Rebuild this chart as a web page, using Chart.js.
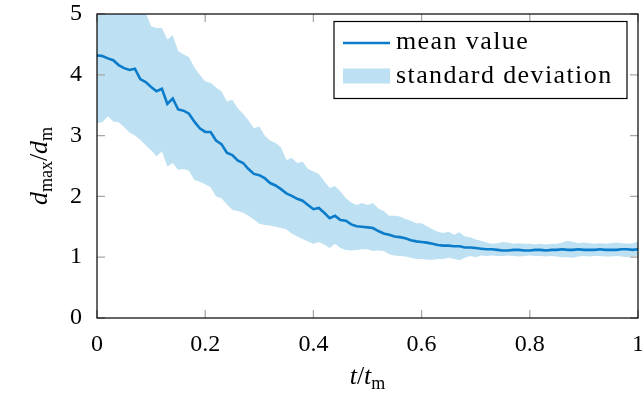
<!DOCTYPE html>
<html>
<head>
<meta charset="utf-8">
<script src="https://cdn.jsdelivr.net/npm/chart.js@4"></script>
<style>
  html, body { margin: 0; padding: 0; background: #fff; }
  canvas { display: block; }
</style>
</head>
<body>
<canvas id="devChart" width="642" height="395"></canvas>
<script>
// sample times t/t_m
const times = [
  0, 0.01, 0.02, 0.03, 0.04, 0.05, 0.06, 0.07, 0.08, 0.09,
  0.1, 0.11, 0.12, 0.13, 0.14, 0.15, 0.16, 0.17, 0.18, 0.19,
  0.2, 0.21, 0.22, 0.23, 0.24, 0.25, 0.26, 0.27, 0.28, 0.29,
  0.3, 0.31, 0.32, 0.33, 0.34, 0.35, 0.36, 0.37, 0.38, 0.39,
  0.4, 0.41, 0.42, 0.43, 0.44, 0.45, 0.46, 0.47, 0.48, 0.49,
  0.5, 0.51, 0.52, 0.53, 0.54, 0.55, 0.56, 0.57, 0.58, 0.59,
  0.6, 0.61, 0.62, 0.63, 0.64, 0.65, 0.66, 0.67, 0.68, 0.69,
  0.7, 0.71, 0.72, 0.73, 0.74, 0.75, 0.76, 0.77, 0.78, 0.79,
  0.8, 0.81, 0.82, 0.83, 0.84, 0.85, 0.86, 0.87, 0.88, 0.89,
  0.9, 0.91, 0.92, 0.93, 0.94, 0.95, 0.96, 0.97, 0.98, 0.99, 1
];

const meanValue = [
  4.32, 4.31, 4.27, 4.24, 4.16, 4.11, 4.08, 4.10, 3.93, 3.88,
  3.80, 3.73, 3.77, 3.52, 3.61, 3.43, 3.41, 3.36, 3.23, 3.12,
  3.06, 3.06, 2.92, 2.86, 2.72, 2.68, 2.59, 2.55, 2.45, 2.37,
  2.35, 2.30, 2.22, 2.18, 2.12, 2.05, 2.01, 1.96, 1.93, 1.86,
  1.79, 1.81, 1.73, 1.64, 1.68, 1.61, 1.60, 1.54, 1.51, 1.50,
  1.49, 1.48, 1.43, 1.39, 1.37, 1.34, 1.33, 1.31, 1.28, 1.26,
  1.25, 1.24, 1.22, 1.20, 1.19, 1.19, 1.18, 1.18, 1.16, 1.16,
  1.15, 1.14, 1.13, 1.13, 1.12, 1.11, 1.11, 1.12, 1.12, 1.11,
  1.11, 1.12, 1.12, 1.11, 1.12, 1.12, 1.13, 1.12, 1.12, 1.13,
  1.12, 1.12, 1.12, 1.13, 1.12, 1.12, 1.12, 1.13, 1.13, 1.12, 1.13
];

// mean + std (goes above the plot at the start, clipped at 5)
const upperValue = [
  5.45, 5.45, 5.42, 5.40, 5.35, 5.30, 5.25, 5.20, 5.12, 5.02,
  4.80, 4.77, 4.77, 4.58, 4.65, 4.39, 4.34, 4.29, 4.12, 4.00,
  3.89, 3.87, 3.79, 3.73, 3.56, 3.59, 3.45, 3.36, 3.25, 3.12,
  3.15, 3.00, 2.92, 2.88, 2.81, 2.60, 2.63, 2.55, 2.57, 2.45,
  2.41, 2.37, 2.25, 2.14, 2.17, 2.08, 1.97, 1.90, 1.86, 1.89,
  1.86, 1.89, 1.80, 1.76, 1.68, 1.68, 1.67, 1.63, 1.60, 1.56,
  1.56, 1.51, 1.46, 1.42, 1.40, 1.42, 1.37, 1.41, 1.34, 1.33,
  1.29, 1.27, 1.24, 1.22, 1.23, 1.25, 1.24, 1.22, 1.23, 1.22,
  1.22, 1.21, 1.22, 1.21, 1.22, 1.22, 1.24, 1.27, 1.25, 1.23,
  1.24, 1.23, 1.22, 1.23, 1.22, 1.23, 1.24, 1.23, 1.22, 1.23, 1.26
];

// mean - std
const lowerValue = [
  3.21, 3.22, 3.32, 3.23, 3.22, 3.14, 3.05, 3.00, 2.93, 2.84,
  2.76, 2.66, 2.74, 2.49, 2.55, 2.44, 2.45, 2.42, 2.27, 2.24,
  2.20, 2.15, 2.00, 1.97, 1.87, 1.78, 1.76, 1.73, 1.68, 1.62,
  1.55, 1.53, 1.52, 1.50, 1.48, 1.46, 1.39, 1.34, 1.30, 1.26,
  1.22, 1.25, 1.21, 1.15, 1.22, 1.15, 1.12, 1.11, 1.12, 1.13,
  1.13, 1.10, 1.11, 1.10, 1.05, 1.03, 1.02, 1.01, 0.99, 0.97,
  0.97, 0.96, 0.96, 0.97, 0.97, 0.99, 0.97, 0.95, 0.99, 1.02,
  1.00, 1.03, 1.02, 1.03, 1.02, 1.02, 1.03, 1.02, 1.01, 1.02,
  1.03, 1.02, 1.02, 1.01, 1.02, 1.01, 1.00, 1.00, 0.99, 1.01,
  1.02, 1.01, 1.02, 1.02, 1.01, 1.01, 1.02, 1.01, 1.00, 1.01, 1.02
];

const xTickLabels = ["0", "0.2", "0.4", "0.6", "0.8", "1"];

const LINE = "#0b7cca";
const BAND = "#bde0f2";
const SERIF = "'Liberation Serif', 'DejaVu Serif', serif";

const pts = (vals) => times.map((t, i) => ({ x: t, y: vals[i] }));

// draws pieces like d_max with italic/subscript parts, centred on (cx, baseline)
function drawRich(ctx, parts, cx, baseline) {
  const fontOf = (p) => p.sub ? `18px ${SERIF}` : `${p.italic ? "italic " : ""}26px ${SERIF}`;
  let total = 0;
  parts.forEach((p) => { ctx.font = fontOf(p); p.w = ctx.measureText(p.text).width; total += p.w; });
  let x = cx - total / 2;
  parts.forEach((p) => {
    ctx.font = fontOf(p);
    ctx.fillText(p.text, x, baseline + (p.sub ? 5 : 0));
    x += p.w;
  });
}

// pgfplots-like box with inward grey ticks on all sides
const frameTicks = {
  id: "frameTicks",
  afterDatasetsDraw(chart) {
    const { ctx, chartArea: a, scales: { x, y } } = chart;
    ctx.save();
    ctx.strokeStyle = "#a8a8a8";
    ctx.lineWidth = 1.3;
    ctx.beginPath();
    x.ticks.forEach((t) => {
      const px = x.getPixelForValue(t.value);
      ctx.moveTo(px, a.bottom); ctx.lineTo(px, a.bottom - 8);
      ctx.moveTo(px, a.top); ctx.lineTo(px, a.top + 8);
    });
    y.ticks.forEach((t) => {
      const py = y.getPixelForValue(t.value);
      ctx.moveTo(a.left, py); ctx.lineTo(a.left + 8, py);
      ctx.moveTo(a.right, py); ctx.lineTo(a.right - 8, py);
    });
    ctx.stroke();
    ctx.strokeStyle = "#000";
    ctx.lineWidth = 1.2;
    ctx.strokeRect(a.left, a.top, a.right - a.left, a.bottom - a.top);
    ctx.restore();
  },
  afterDraw(chart) {
    const { ctx, chartArea: a } = chart;
    const ds = chart.data.datasets;
    ctx.save();
    ctx.fillStyle = "#000";
    ctx.textBaseline = "alphabetic";

    // axis titles
    drawRich(ctx, [
      { text: "t", italic: true }, { text: "/" },
      { text: "t", italic: true }, { text: "m", sub: true }
    ], (a.left + a.right) / 2, 384);

    ctx.save();
    ctx.translate(47, (a.top + a.bottom) / 2);
    ctx.rotate(-Math.PI / 2);
    drawRich(ctx, [
      { text: "d", italic: true }, { text: "max", sub: true }, { text: "/" },
      { text: "d", italic: true }, { text: "m", sub: true }
    ], 0, 0);
    ctx.restore();

    // legend box in the upper right corner
    const bx = a.right - 304, by = a.top + 7.5, bw = 293, bh = 77;
    ctx.fillStyle = "#fff";
    ctx.fillRect(bx, by, bw, bh);
    ctx.strokeStyle = "#000";
    ctx.lineWidth = 1.2;
    ctx.strokeRect(bx, by, bw, bh);

    ctx.strokeStyle = LINE;
    ctx.lineWidth = 2.6;
    ctx.beginPath();
    ctx.moveTo(bx + 9, by + 21.5);
    ctx.lineTo(bx + 56, by + 21.5);
    ctx.stroke();
    ctx.fillStyle = BAND;
    ctx.fillRect(bx + 9, by + 47, 47, 15);

    ctx.fillStyle = "#000";
    ctx.font = `26px ${SERIF}`;
    ctx.letterSpacing = "1.4px";
    ctx.textBaseline = "middle";
    ctx.fillText(ds[0].label, bx + 62, by + 21);
    ctx.fillText(ds[1].label, bx + 62, by + 55);
    ctx.restore();
  }
};

new Chart(document.getElementById("devChart"), {
  type: "line",
  data: {
    datasets: [
      {
        label: "mean value",
        data: pts(meanValue),
        borderColor: LINE,
        borderWidth: 2.6,
        pointRadius: 0,
        fill: false,
        tension: 0,
      },
      {
        label: "standard deviation",
        data: pts(upperValue),
        borderWidth: 0,
        borderColor: BAND,
        backgroundColor: BAND,
        pointRadius: 0,
        fill: 2,
        tension: 0,
      },
      {
        label: "std lower",
        data: pts(lowerValue),
        borderWidth: 0,
        borderColor: BAND,
        pointRadius: 0,
        fill: false,
        tension: 0,
      },
    ],
  },
  options: {
    responsive: false,
    animation: false,
    events: [],
    layout: { padding: { top: 14, right: 4, left: 0, bottom: 0 } },
    plugins: {
      legend: { display: false },
      tooltip: { enabled: false },
    },
    scales: {
      x: {
        type: "linear",
        min: 0,
        max: 1,
        grid: { display: false },
        border: { display: false },
        ticks: {
          stepSize: 0.2,
          padding: 4,
          color: "#000",
          maxRotation: 0,
          font: { family: SERIF, size: 24 },
          callback: (v, i) => xTickLabels[i],
        },
        afterFit: (s) => { s.height = 77; s.paddingLeft = 0; s.paddingRight = 0; },
      },
      y: {
        min: 0,
        max: 5,
        grid: { display: false },
        border: { display: false },
        ticks: {
          stepSize: 1,
          padding: 7,
          color: "#000",
          font: { family: SERIF, size: 24 },
        },
        afterFit: (s) => { s.width = 97; s.paddingTop = 0; s.paddingBottom = 0; },
      },
    },
  },
  plugins: [frameTicks],
});
</script>
</body>
</html>
